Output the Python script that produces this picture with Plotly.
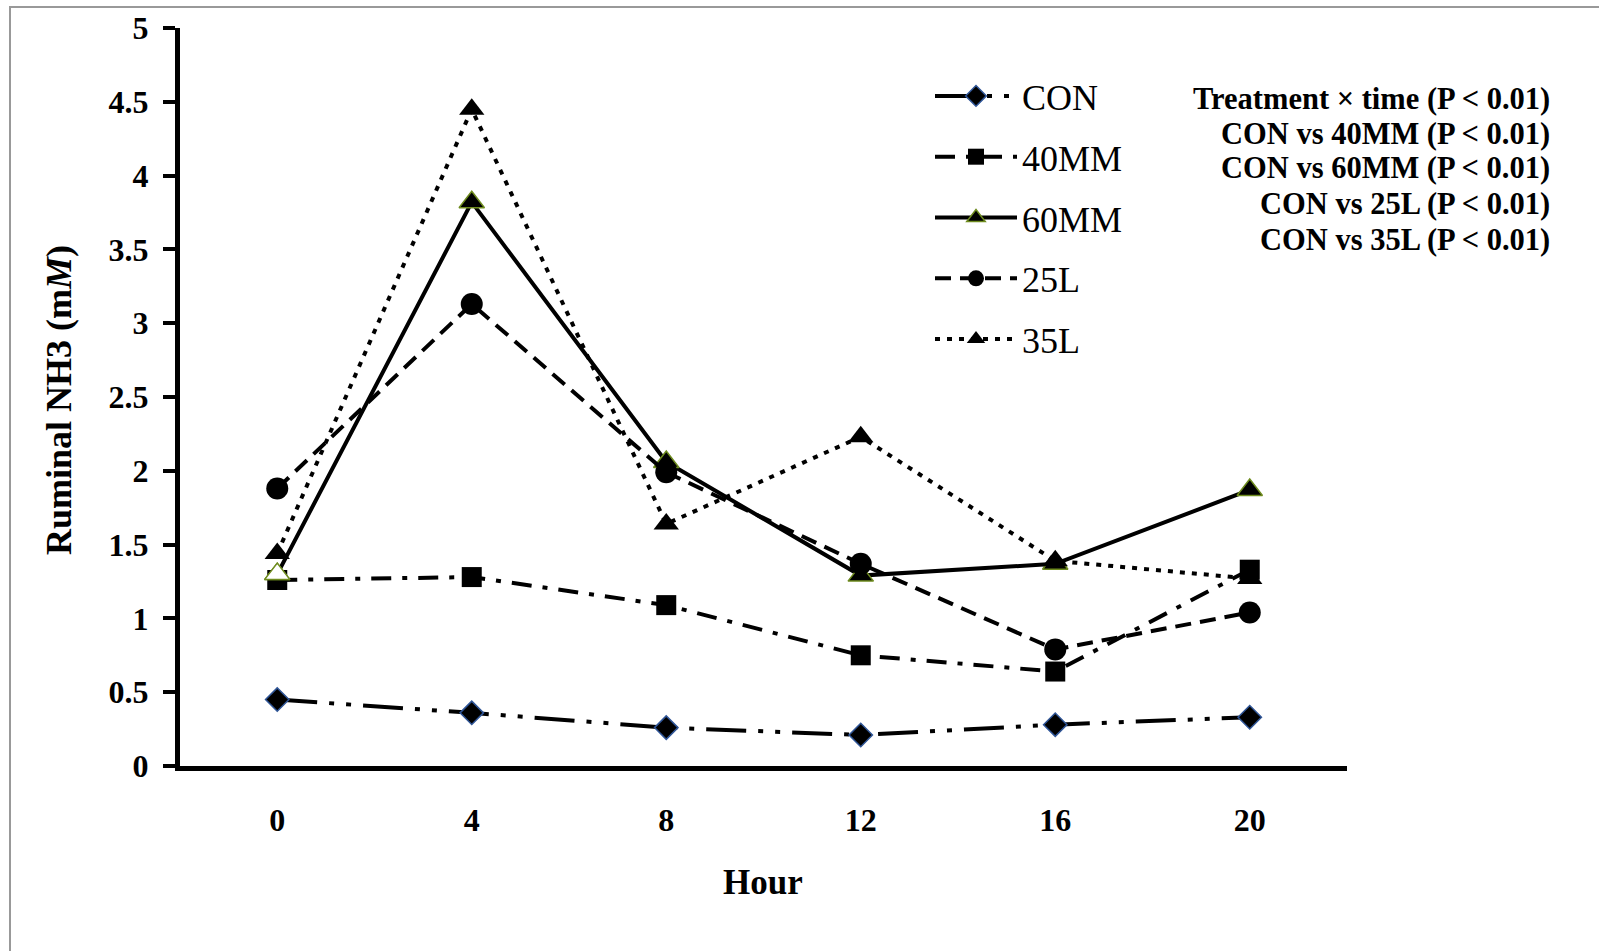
import plotly.graph_objects as go

# ---- data ----
hours = [0, 4, 8, 12, 16, 20]
con = [0.45, 0.36, 0.26, 0.21, 0.28, 0.33]
mm40 = [1.26, 1.28, 1.09, 0.75, 0.64, 1.33]
mm60 = [1.30, 3.82, 2.06, 1.29, 1.37, 1.87]
l25 = [1.88, 3.13, 1.99, 1.37, 0.79, 1.04]
l35 = [1.44, 4.45, 1.64, 2.23, 1.39, 1.27]

y_ticks = [0, 0.5, 1, 1.5, 2, 2.5, 3, 3.5, 4, 4.5, 5]
y_tick_text = ["0", "0.5", "1", "1.5", "2", "2.5", "3", "3.5", "4", "4.5", "5"]
x_tick_text = ["0", "4", "8", "12", "16", "20"]

stats_lines = [
    "Treatment \u00d7 time (P < 0.01)",
    "CON vs 40MM (P < 0.01)",
    "CON vs 60MM (P < 0.01)",
    "CON vs 25L (P < 0.01)",
    "CON vs 35L (P < 0.01)",
]

# ---- layout geometry (pixels of a 1599x951 page) ----
W, H = 1599, 951
L, R, T, B = 180, 1347, 28, 766
pw, ph = R - L, B - T

def px_x(p):
    return (p - L) / pw

def px_y(p):
    return (B - p) / ph

SERIF = "Liberation Serif, Times New Roman, serif"

fig = go.Figure()

fig.add_trace(go.Scatter(
    x=hours, y=con, name="CON", mode="lines+markers", legendgroup="a",
    line=dict(color="black", width=4, dash="40px,12px,5px,12px,5px,12px"),
    marker=dict(symbol="diamond", size=18, color="black",
                line=dict(color="#2F5597", width=1.5)),
))
fig.add_trace(go.Scatter(
    x=hours, y=mm40, name="40MM", mode="lines+markers", legendgroup="b",
    line=dict(color="black", width=4, dash="20px,11px,5px,11px"),
    marker=dict(symbol="square", size=20, color="black"),
))
fig.add_trace(go.Scatter(
    x=hours, y=mm60, name="60MM", mode="lines+markers", legendgroup="c",
    line=dict(color="black", width=4),
    marker=dict(symbol="triangle-up", size=22, color="black",
                line=dict(color="#6E8B1E", width=1.5)),
))
# hollow look of the first 60MM marker
fig.add_trace(go.Scatter(
    x=hours[:1], y=mm60[:1], mode="markers", showlegend=False, hoverinfo="skip",
    marker=dict(symbol="triangle-up", size=22, color="white",
                line=dict(color="#6E8B1E", width=1.5)),
))
fig.add_trace(go.Scatter(
    x=hours, y=l25, name="25L", mode="lines+markers", legendgroup="d",
    line=dict(color="black", width=4, dash="16px,9px"),
    marker=dict(symbol="circle", size=22, color="black"),
))
fig.add_trace(go.Scatter(
    x=hours, y=l35, name="35L", mode="lines+markers", legendgroup="e",
    line=dict(color="black", width=4, dash="5px,7px"),
    marker=dict(symbol="triangle-up", size=22, color="black"),
))

annotations = []
stat_y = [99, 134, 168, 204, 240]
for txt, yy in zip(stats_lines, stat_y):
    annotations.append(dict(
        text="<b>" + txt + "</b>", xref="paper", yref="paper",
        x=px_x(1552), y=px_y(yy), xanchor="right", yanchor="middle",
        showarrow=False, font=dict(family=SERIF, size=30.5, color="black"),
    ))

annotations.append(dict(
    text="<b>Ruminal NH3 (m<i>M</i>)</b>", xref="paper", yref="paper",
    x=px_x(59), y=px_y(400), xanchor="center", yanchor="middle",
    textangle=-90, showarrow=False,
    font=dict(family=SERIF, size=36, color="black"),
))
annotations.append(dict(
    text="<b>Hour</b>", xref="paper", yref="paper",
    x=px_x(763), y=px_y(883), xanchor="center", yanchor="middle",
    showarrow=False, font=dict(family=SERIF, size=35, color="black"),
))

fig.update_layout(
    width=W, height=H,
    margin=dict(l=L, r=W - R, t=T, b=H - B, autoexpand=False),
    paper_bgcolor="white", plot_bgcolor="white",
    font=dict(family=SERIF, color="black"),
    showlegend=True,
    legend=dict(
        x=px_x(930), y=px_y(66), xanchor="left", yanchor="top",
        font=dict(family=SERIF, size=36, color="black"),
        itemwidth=82, tracegroupgap=11, bgcolor="rgba(0,0,0,0)",
        itemsizing="trace",
    ),
    xaxis=dict(
        range=[-2, 22], tickvals=hours, ticktext=x_tick_text,
        showgrid=False, zeroline=False, showline=True, linecolor="black",
        linewidth=5, ticks="", ticklabelstandoff=22,
        tickfont=dict(family=SERIF, size=32, color="black", weight="bold"),
        fixedrange=True,
    ),
    yaxis=dict(
        range=[0, 5], tickvals=y_ticks, ticktext=y_tick_text,
        showgrid=False, zeroline=False, showline=True, linecolor="black",
        linewidth=5, ticks="outside", ticklen=12, tickwidth=4, tickcolor="black",
        ticklabelstandoff=8,
        tickfont=dict(family=SERIF, size=32, color="black", weight="bold"),
        fixedrange=True,
    ),
    annotations=annotations,
    shapes=[dict(
        type="rect", xref="paper", yref="paper",
        x0=px_x(10), y0=-2, x1=3, y1=px_y(7),
        line=dict(color="#999999", width=2), fillcolor="rgba(0,0,0,0)",
        layer="below",
    )],
)

fig.write_html("out.html")
